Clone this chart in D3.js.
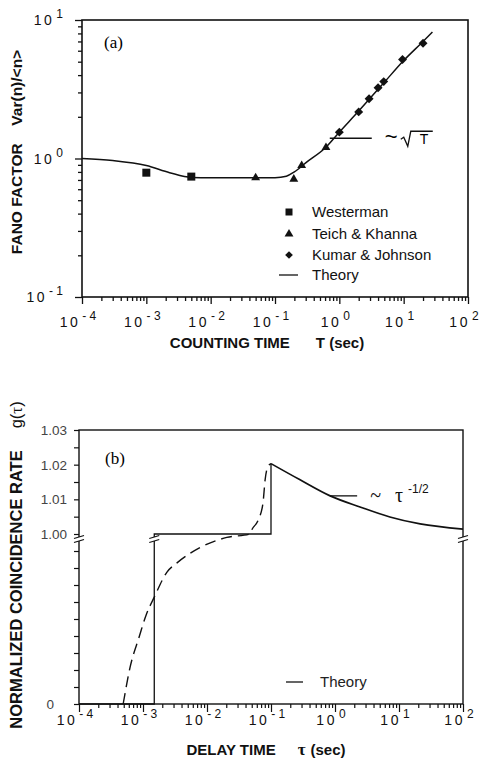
<!DOCTYPE html>
<html><head><meta charset="utf-8">
<script src="https://cdn.jsdelivr.net/npm/d3@7"></script>
<style>body{margin:0;background:#fff}</style>
</head><body>
<script>
// ---- panel (a): Fano factor vs counting time
var westermanT = [0.001, 0.005];
var westermanF = [0.79, 0.74];
var teichT = [0.05, 0.196, 0.26, 0.62];
var teichF = [0.726, 0.71, 0.89, 1.2];
var kumarT = [1.0, 2.0, 2.9, 4.0, 4.9, 9.6, 20];
var kumarF = [1.55, 2.17, 2.7, 3.24, 3.59, 5.19, 6.8];
var theoryT = [1e-4, 3e-4, 1e-3, 2.3e-3, 5e-3, 0.01, 0.05, 0.1, 0.15, 0.2, 0.3, 0.6, 1, 2, 5, 10, 20, 28];
var theoryF = [1.0, 0.967, 0.89, 0.79, 0.73, 0.726, 0.726, 0.727, 0.745, 0.80, 0.93, 1.19, 1.55, 2.2, 3.55, 5.1, 7.0, 8.2];
var xExpA = [-4, -3, -2, -1, 0, 1, 2];
var yExpA = [-1, 0, 1];
var legendA = ["Westerman", "Teich & Khanna", "Kumar & Johnson", "Theory"];

// ---- panel (b): normalized coincidence rate vs delay time
var stepTau = [1e-4, 0.0015, 0.0015, 0.1, 0.1];
var stepG = [0, 0, 1.0, 1.0, 1.0203];
var decayTau = [0.1, 0.28, 0.84, 2.46, 7.2, 21.4, 100];
var decayG = [1.0203, 1.0157, 1.0110, 1.0078, 1.0049, 1.0029, 1.0014];
var dashTau = [4.9e-4, 6.3e-4, 8.7e-4, 1.12e-3, 1.48e-3, 2.37e-3, 3.4e-3, 7.8e-3, 0.0204, 0.047, 0.050, 0.063, 0.075, 0.081, 0.089, 0.1];
var dashG = [0, 0.218, 0.394, 0.524, 0.624, 0.776, 0.83, 0.92, 0.98, 1.0, 1.0012, 1.004, 1.009, 1.0157, 1.0194, 1.0203];
var yTicksHigh = [1.00, 1.01, 1.02, 1.03];
var yLabelsHigh = ["1.00", "1.01", "1.02", "1.03"];
var xExpB = [-4, -3, -2, -1, 0, 1, 2];

var w = 482, h = 761;
var sans = "'Liberation Sans', Arial, Helvetica, sans-serif";
var serif = "'Liberation Serif', 'Times New Roman', serif";

var svg = d3.select("body").append("svg")
  .attr("width", w).attr("height", h)
  .style("background", "#fff");

function minorVals(exps) {
  var out = [];
  for (var i = 0; i < exps.length - 1; i++)
    for (var d = 2; d <= 9; d++) out.push(d * Math.pow(10, exps[i]));
  return out;
}
function majorVals(exps) { return exps.map(function(e) { return Math.pow(10, e); }); }

function powLabel(g, x, y, exp, anchor, size) {
  var t = g.append("text").attr("x", x).attr("y", y)
    .attr("text-anchor", anchor).attr("font-family", sans)
    .attr("font-size", size).attr("fill", "#111");
  t.append("tspan").text("10").attr("letter-spacing", 2.5);
  t.append("tspan").text(exp < 0 ? "- " + (-exp) : exp).attr("dy", -7).attr("dx", 2)
    .attr("font-size", size - 2);
}

// ================= panel (a)
var xA = d3.scaleLog().domain([1e-4, 100]).range([82, 468]);
var yA = d3.scaleLog().domain([0.1, 10]).range([297, 20]);
var gA = svg.append("g");

gA.append("g").attr("transform", "translate(0,297)")
  .call(d3.axisBottom(xA).tickValues(minorVals(xExpA)).tickSize(4).tickFormat(""))
  .call(function(a) { a.select(".domain").remove(); });
gA.append("g").attr("transform", "translate(0,297)")
  .call(d3.axisBottom(xA).tickValues(majorVals(xExpA)).tickSize(7).tickFormat(""))
  .call(function(a) { a.select(".domain").remove(); });
gA.append("g").attr("transform", "translate(82,0)")
  .call(d3.axisLeft(yA).tickValues(minorVals(yExpA)).tickSize(4).tickFormat(""))
  .call(function(a) { a.select(".domain").remove(); });
gA.append("g").attr("transform", "translate(82,0)")
  .call(d3.axisLeft(yA).tickValues(majorVals(yExpA)).tickSize(7).tickFormat(""))
  .call(function(a) { a.select(".domain").remove(); });
gA.selectAll(".tick line").attr("stroke", "#111").attr("stroke-width", 1.3);

gA.append("rect").attr("x", 82).attr("y", 20).attr("width", 386).attr("height", 277)
  .attr("fill", "none").attr("stroke", "#111").attr("stroke-width", 1.6);

xExpA.forEach(function(e) { powLabel(gA, xA(Math.pow(10, e)) - 4, 327, e, "middle", 14); });
yExpA.forEach(function(e) { powLabel(gA, 63, yA(Math.pow(10, e)) + 5, e, "end", 14); });

var lineA = d3.line().x(function(d) { return xA(d[0]); }).y(function(d) { return yA(d[1]); })
  .curve(d3.curveMonotoneX);
gA.append("path").datum(d3.zip(theoryT, theoryF)).attr("d", lineA)
  .attr("fill", "none").attr("stroke", "#111").attr("stroke-width", 1.5);

var sq = d3.symbol().type(d3.symbolSquare).size(64);
var tri = d3.symbol().type(d3.symbolTriangle).size(34);
var dia = d3.symbol().type(d3.symbolSquare).size(40);

gA.selectAll(".w").data(d3.zip(westermanT, westermanF)).join("path")
  .attr("d", sq).attr("fill", "#111")
  .attr("transform", function(d) { return "translate(" + xA(d[0]) + "," + yA(d[1]) + ")"; });
gA.selectAll(".t").data(d3.zip(teichT, teichF)).join("path")
  .attr("d", tri).attr("fill", "#111")
  .attr("transform", function(d) { return "translate(" + xA(d[0]) + "," + yA(d[1]) + ")"; });
gA.selectAll(".k").data(d3.zip(kumarT, kumarF)).join("path")
  .attr("d", dia).attr("fill", "#111")
  .attr("transform", function(d) { return "translate(" + xA(d[0]) + "," + yA(d[1]) + ") rotate(45)"; });

// sqrt(T) annotation
var ax = xA(0.71), ay = yA(1.4);
gA.append("line").attr("x1", ax).attr("x2", ax + 42).attr("y1", ay).attr("y2", ay)
  .attr("stroke", "#111").attr("stroke-width", 1.3);
gA.append("text").attr("x", ax + 55).attr("y", ay + 6).attr("font-family", sans)
  .attr("font-size", 22).text("~");
gA.append("path").attr("d", "M" + (ax + 71) + "," + (ay + 1) + " l3,-2 l4,9 l3,-15 l22,0")
  .attr("fill", "none").attr("stroke", "#111").attr("stroke-width", 1.3);
gA.append("text").attr("x", ax + 90).attr("y", ay + 6).attr("font-family", sans)
  .attr("font-size", 14).text("T");

// legend (a)
var legY = [212, 234, 255, 275];
gA.append("path").attr("d", d3.symbol().type(d3.symbolSquare).size(49)).attr("fill", "#111")
  .attr("transform", "translate(289," + legY[0] + ")");
gA.append("path").attr("d", d3.symbol().type(d3.symbolTriangle).size(34)).attr("fill", "#111")
  .attr("transform", "translate(289," + legY[1] + ")");
gA.append("path").attr("d", d3.symbol().type(d3.symbolSquare).size(30)).attr("fill", "#111")
  .attr("transform", "translate(289," + legY[2] + ") rotate(45)");
gA.append("line").attr("x1", 279).attr("x2", 298).attr("y1", legY[3]).attr("y2", legY[3])
  .attr("stroke", "#111").attr("stroke-width", 1.3);
gA.selectAll(".lt").data(legendA).join("text")
  .attr("x", 312).attr("y", function(d, i) { return legY[i] + 5; })
  .attr("font-family", sans).attr("font-size", 15).attr("fill", "#111").text(function(d) { return d; });

gA.append("text").attr("x", 104).attr("y", 48).attr("font-family", serif)
  .attr("font-size", 17).text("(a)");

var xtA = gA.append("text").attr("x", 267).attr("y", 348).attr("text-anchor", "middle")
  .attr("font-family", sans).attr("font-weight", "bold").attr("font-size", 15).attr("fill", "#111");
xtA.append("tspan").text("COUNTING TIME");
xtA.append("tspan").attr("dx", 26).text("T (sec)");

var ytA = gA.append("text").attr("transform", "translate(22,152) rotate(-90)")
  .attr("text-anchor", "middle").attr("font-family", sans).attr("font-weight", "bold")
  .attr("font-size", 15.5).attr("fill", "#111");
ytA.append("tspan").text("FANO FACTOR");
ytA.append("tspan").attr("dx", 18).text("Var(n)/<n>");

// ================= panel (b)
var xB = d3.scaleLog().domain([1e-4, 100]).range([79, 463]);
var yLow = d3.scaleLinear().domain([0, 1]).range([704, 534]);
var yHigh = d3.scaleLinear().domain([1, 1.03]).range([534, 430]);
function yB(g) { return g <= 1 ? yLow(g) : yHigh(g); }
var gB = svg.append("g");

gB.append("g").attr("transform", "translate(0,704)")
  .call(d3.axisBottom(xB).tickValues(minorVals(xExpB)).tickSize(4).tickFormat(""))
  .call(function(a) { a.select(".domain").remove(); });
gB.append("g").attr("transform", "translate(0,704)")
  .call(d3.axisBottom(xB).tickValues(majorVals(xExpB)).tickSize(8).tickFormat(""))
  .call(function(a) { a.select(".domain").remove(); });
gB.append("g").attr("transform", "translate(79,0)")
  .call(d3.axisLeft(yHigh).tickValues(d3.range(7).map(function(i) { return 1 + i * 0.005; })).tickSize(5).tickFormat(""))
  .call(function(a) { a.select(".domain").remove(); });
gB.append("g").attr("transform", "translate(79,0)")
  .call(d3.axisLeft(yLow).tickValues(d3.range(10).map(function(i) { return i * 0.1; })).tickSize(5).tickFormat(""))
  .call(function(a) { a.select(".domain").remove(); });
gB.selectAll(".tick line").attr("stroke", "#111").attr("stroke-width", 1.2);

gB.append("rect").attr("x", 79).attr("y", 430).attr("width", 384).attr("height", 274)
  .attr("fill", "none").attr("stroke", "#111").attr("stroke-width", 1.4);

xExpB.forEach(function(e) { powLabel(gB, xB(Math.pow(10, e)) - 4, 725, e, "middle", 14); });
yTicksHigh.forEach(function(v, i) {
  gB.append("text").attr("x", 67).attr("y", yHigh(v) + 5).attr("text-anchor", "end")
    .attr("font-family", sans).attr("font-size", 13.5).attr("fill", "#444").text(yLabelsHigh[i]);
});
gB.append("text").attr("x", 54).attr("y", yLow(0) + 5).attr("text-anchor", "end")
  .attr("font-family", sans).attr("font-size", 13.5).attr("fill", "#444").text("0");

var lineLin = d3.line().x(function(d) { return xB(d[0]); }).y(function(d) { return yB(d[1]); });
var lineSmooth = d3.line().x(function(d) { return xB(d[0]); }).y(function(d) { return yB(d[1]); })
  .curve(d3.curveMonotoneX);

gB.append("path").datum(d3.zip(dashTau, dashG)).attr("d", lineSmooth)
  .attr("fill", "none").attr("stroke", "#111").attr("stroke-width", 1.4)
  .attr("stroke-dasharray", "11,6");
gB.append("path").datum(d3.zip(stepTau, stepG)).attr("d", lineLin)
  .attr("fill", "none").attr("stroke", "#111").attr("stroke-width", 1.3);
gB.append("path").datum(d3.zip(decayTau, decayG)).attr("d", lineSmooth)
  .attr("fill", "none").attr("stroke", "#111").attr("stroke-width", 1.7);

// axis break marks
[xB(1e-4), xB(0.0015), xB(100)].forEach(function(bx) {
  gB.append("rect").attr("x", bx - 3).attr("y", 537).attr("width", 6).attr("height", 4).attr("fill", "#fff");
  [537, 541].forEach(function(by) {
    gB.append("line").attr("x1", bx - 5).attr("x2", bx + 5).attr("y1", by + 1.5).attr("y2", by - 1.5)
      .attr("stroke", "#111").attr("stroke-width", 1.3);
  });
});

// tau^-1/2 annotation
var bx0 = xB(0.84), by0 = yHigh(1.0110);
gB.append("line").attr("x1", bx0).attr("x2", bx0 + 27).attr("y1", by0).attr("y2", by0)
  .attr("stroke", "#111").attr("stroke-width", 1.3);
var an = gB.append("text").attr("x", bx0 + 40).attr("y", by0 + 6).attr("font-family", serif)
  .attr("font-size", 20).attr("fill", "#111");
an.append("tspan").text("~");
an.append("tspan").attr("dx", 14).text("τ");
an.append("tspan").attr("dx", 5).attr("dy", -9).attr("font-family", sans).attr("font-size", 12).text("-1/2");

gB.append("line").attr("x1", 286).attr("x2", 303).attr("y1", 682).attr("y2", 682)
  .attr("stroke", "#111").attr("stroke-width", 1.3);
gB.append("text").attr("x", 320).attr("y", 687).attr("font-family", sans)
  .attr("font-size", 15).attr("fill", "#222").text("Theory");

gB.append("text").attr("x", 105).attr("y", 464).attr("font-family", serif)
  .attr("font-size", 17).text("(b)");

var xtB = gB.append("text").attr("x", 266).attr("y", 755).attr("text-anchor", "middle")
  .attr("font-family", sans).attr("font-weight", "bold").attr("font-size", 15).attr("fill", "#111");
xtB.append("tspan").text("DELAY TIME");
xtB.append("tspan").attr("dx", 22).attr("font-family", serif).attr("font-size", 17).text("τ");
xtB.append("tspan").attr("dx", 5).text("(sec)");

var ytB = gB.append("text").attr("transform", "translate(22,565) rotate(-90)")
  .attr("text-anchor", "middle").attr("font-family", sans).attr("font-weight", "bold")
  .attr("font-size", 16.5).attr("fill", "#111");
ytB.append("tspan").text("NORMALIZED COINCIDENCE RATE");
ytB.append("tspan").attr("dx", 22).attr("font-weight", "normal").text("g(");
ytB.append("tspan").attr("font-family", serif).attr("font-weight", "normal").attr("font-size", 17).text("τ");
ytB.append("tspan").attr("font-weight", "normal").text(")");
</script>
</body></html>
